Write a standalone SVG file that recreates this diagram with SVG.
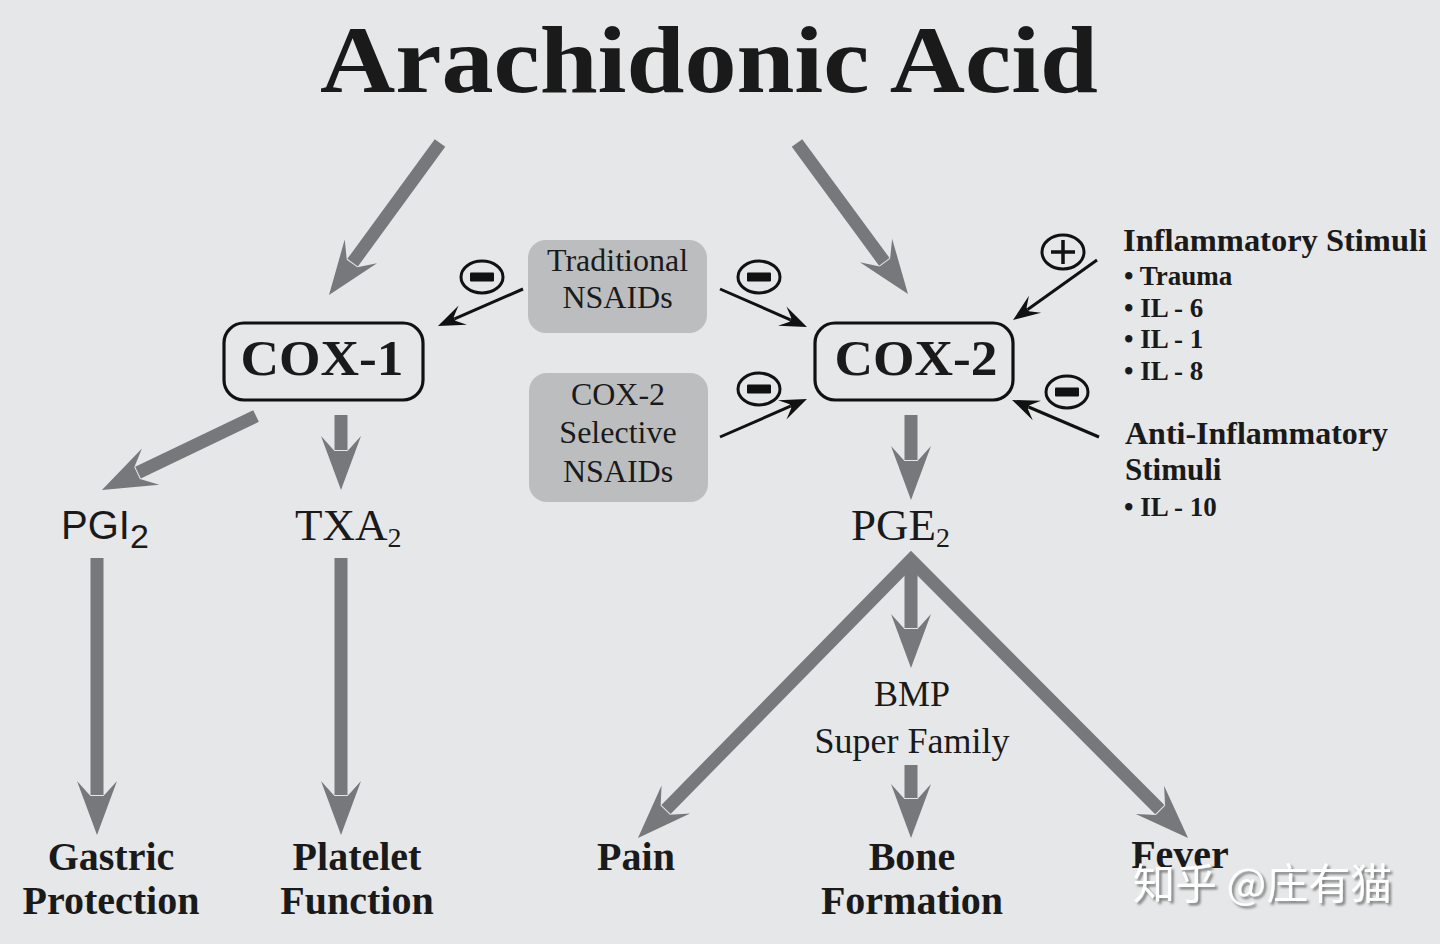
<svg xmlns="http://www.w3.org/2000/svg" width="1440" height="944" viewBox="0 0 1440 944">
<style>
.serif{font-family:"Liberation Serif","Times New Roman",serif;fill:#1a1a1a}
.b{font-weight:bold}
.big{stroke:#77787b;stroke-width:13;fill:none;marker-end:url(#gh)}
.thin{stroke:#111;stroke-width:3;fill:none;marker-end:url(#bh)}
.box{fill:none;stroke:#111;stroke-width:3.2}
.drug{fill:#bcbdbf}
.sym{fill:none;stroke:#111;stroke-width:3}
.bar{fill:#111}
.mid{text-anchor:middle}
</style>
<defs>
<marker id="gh" markerUnits="userSpaceOnUse" viewBox="-56 -22 58 44" markerWidth="58" markerHeight="44" refX="-40" refY="0" orient="auto">
<path d="M0,0 L-54,-20 L-39,-6.5 L-39,6.5 L-54,20 Z" fill="#77787b"/>
</marker>
<marker id="ghs" markerUnits="userSpaceOnUse" viewBox="-56 -22 58 44" markerWidth="58" markerHeight="44" refX="-40" refY="0" orient="auto-start-reverse">
<path d="M0,0 L-54,-20 L-39,-6.5 L-39,6.5 L-54,20 Z" fill="#77787b"/>
</marker>
<marker id="bh" markerUnits="userSpaceOnUse" viewBox="-28 -12 30 24" markerWidth="30" markerHeight="24" refX="-18" refY="0" orient="auto">
<path d="M0,0 L-27,-10.5 L-18,-2 L-18,2 L-27,10.5 Z" fill="#111"/>
</marker>
<filter id="sh" x="-10%" y="-30%" width="120%" height="160%">
<feDropShadow dx="2.5" dy="2.5" stdDeviation="1" flood-color="#777" flood-opacity="0.9"/>
</filter>
</defs>
<rect width="1440" height="944" fill="#e6e7e8"/>

<g id="title"><text class="serif b" x="320" y="92" font-size="96" textLength="778" lengthAdjust="spacingAndGlyphs">Arachidonic Acid</text></g>

<g id="connectors">
<line class="big" x1="440" y1="143" x2="352.6" y2="262.7"/>
<line class="big" x1="797" y1="143" x2="884.3" y2="261.8"/>
<line class="big" x1="256" y1="416" x2="138" y2="472.7"/>
<line class="big" x1="341" y1="415" x2="341" y2="450"/>
<line class="big" x1="97" y1="558" x2="97" y2="795"/>
<line class="big" x1="341" y1="558" x2="341" y2="795"/>
<line class="big" x1="911" y1="415" x2="911" y2="460"/>
<line class="big" x1="911" y1="560" x2="911" y2="628"/>
<line class="big" x1="911" y1="765" x2="911" y2="798"/>
<path d="M666,809.5 L911,560 L1159.8,809.7" stroke="#77787b" stroke-width="13" fill="none" stroke-linejoin="miter" marker-start="url(#ghs)" marker-end="url(#gh)"/>
<line class="thin" x1="523" y1="289" x2="454.5" y2="318.8"/>
<line class="thin" x1="720" y1="289" x2="790.5" y2="319.8"/>
<line class="thin" x1="720" y1="437" x2="790.5" y2="406.2"/>
<line class="thin" x1="1097" y1="260" x2="1027.7" y2="309.5"/>
<line class="thin" x1="1099" y1="437" x2="1028.6" y2="407"/>
</g>

<g id="inhibit-1"><ellipse class="sym" cx="482" cy="277" rx="21" ry="16"/><rect class="bar" x="470" y="272.5" width="24" height="9" rx="1"/></g>
<g id="inhibit-2"><ellipse class="sym" cx="759" cy="277" rx="21" ry="16"/><rect class="bar" x="747" y="272.5" width="24" height="9" rx="1"/></g>
<g id="inhibit-3"><ellipse class="sym" cx="759" cy="389" rx="21" ry="16"/><rect class="bar" x="747" y="384.5" width="24" height="9" rx="1"/></g>
<g id="inhibit-4"><ellipse class="sym" cx="1067" cy="392" rx="21" ry="16"/><rect class="bar" x="1055" y="387.5" width="24" height="9" rx="1"/></g>
<g id="stimulate"><ellipse class="sym" cx="1063" cy="252" rx="21" ry="17"/><path d="M1051,252 H1075 M1063,240 V264" stroke="#111" stroke-width="3.5"/></g>

<g id="cox1"><rect class="box" x="224" y="323" width="199" height="77" rx="20"/><text class="serif b mid" x="322" y="375" font-size="50" textLength="163" lengthAdjust="spacingAndGlyphs">COX-1</text></g>
<g id="cox2"><rect class="box" x="815" y="323" width="198" height="77" rx="20"/><text class="serif b mid" x="916" y="375" font-size="50" textLength="163" lengthAdjust="spacingAndGlyphs">COX-2</text></g>

<g id="traditional-nsaids"><rect class="drug" x="528" y="240" width="179" height="93" rx="18"/>
<text class="serif mid" x="617.5" font-size="32"><tspan x="617.5" y="271">Traditional</tspan><tspan x="617.5" y="308">NSAIDs</tspan></text></g>
<g id="selective-nsaids"><rect class="drug" x="529" y="373" width="179" height="129" rx="18"/>
<text class="serif mid" x="618" font-size="32"><tspan x="618" y="405">COX-2</tspan><tspan x="618" y="443">Selective</tspan><tspan x="618" y="482">NSAIDs</tspan></text></g>

<g id="inflammatory-stimuli"><text class="serif b" x="1123" y="251" font-size="31" textLength="304" lengthAdjust="spacingAndGlyphs">Inflammatory Stimuli</text>
<text class="serif b" font-size="27"><tspan x="1124" y="285">• Trauma</tspan><tspan x="1124" y="317">• IL - 6</tspan><tspan x="1124" y="348">• IL - 1</tspan><tspan x="1124" y="380">• IL - 8</tspan></text></g>
<g id="anti-inflammatory-stimuli"><text class="serif b" font-size="31"><tspan x="1125" y="444" textLength="263" lengthAdjust="spacingAndGlyphs">Anti-Inflammatory</tspan><tspan x="1125" y="480">Stimuli</tspan></text>
<text class="serif b" x="1124" y="516" font-size="27">• IL - 10</text></g>

<g id="pgi2"><text x="61" y="539" font-family="Liberation Sans, Arial, sans-serif" font-size="40" fill="#1a1a1a">PGI<tspan font-size="34" dy="9">2</tspan></text></g>
<g id="txa2"><text class="serif" x="295" y="540" font-size="45">TXA<tspan font-size="28" dy="7">2</tspan></text></g>
<g id="pge2"><text class="serif" x="851" y="540" font-size="45">PGE<tspan font-size="28" dy="7">2</tspan></text></g>
<g id="bmp"><text class="serif mid" font-size="36"><tspan x="912" y="706">BMP</tspan><tspan x="912" y="753">Super Family</tspan></text></g>

<g id="gastric-protection"><text class="serif b mid" font-size="40"><tspan x="111" y="870">Gastric</tspan><tspan x="111" y="914">Protection</tspan></text></g>
<g id="platelet-function"><text class="serif b mid" font-size="40"><tspan x="357" y="870">Platelet</tspan><tspan x="357" y="914">Function</tspan></text></g>
<g id="pain"><text class="serif b mid" x="636" y="870" font-size="40">Pain</text></g>
<g id="bone-formation"><text class="serif b mid" font-size="40"><tspan x="912" y="870">Bone</tspan><tspan x="912" y="914">Formation</tspan></text></g>
<g id="fever"><text class="serif b mid" x="1180" y="868" font-size="40">Fever</text></g>

<g id="watermark"><text x="1133" y="899" font-family="Noto Sans CJK SC, sans-serif" font-size="42" fill="#ffffff" filter="url(#sh)">知乎 @庄有猫</text></g>
</svg>
